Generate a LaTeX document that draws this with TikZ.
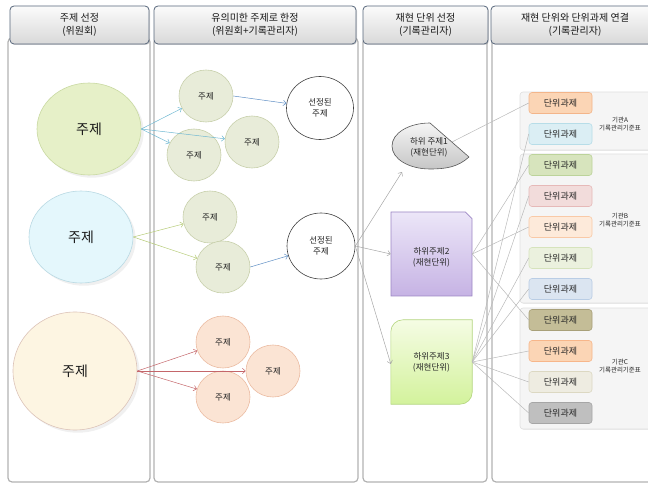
\documentclass[tikz,border=0pt]{standalone}
\usepackage{fontspec}
\setmainfont{Noto Sans CJK KR}
\usetikzlibrary{arrows.meta,shapes.geometric,shapes.misc,shadows}

\definecolor{hdrline}{HTML}{56657A}
\definecolor{tgreen}{HTML}{E6F0C8}
\definecolor{tgreenl}{HTML}{C9D9A2}
\definecolor{tblue}{HTML}{E4F7FC}
\definecolor{tbluel}{HTML}{B9D9E3}
\definecolor{tpeach}{HTML}{FDF5E2}
\definecolor{tpeachl}{HTML}{DCC3B8}
\definecolor{sgreen}{HTML}{E8ECD9}
\definecolor{sgreenl}{HTML}{C8D0AC}
\definecolor{speach}{HTML}{FBE4D4}
\definecolor{speachl}{HTML}{EBBCA3}
\definecolor{arteal}{HTML}{6FB8D2}
\definecolor{arblue}{HTML}{5F8FC4}
\definecolor{arolive}{HTML}{B7CC79}
\definecolor{arred}{HTML}{C4666A}
\definecolor{lavtop}{HTML}{ECE6F8}
\definecolor{lavbot}{HTML}{C6B3E4}
\definecolor{lavline}{HTML}{9C86C4}
\definecolor{limetop}{HTML}{F5FCE4}
\definecolor{limebot}{HTML}{D3F29C}
\definecolor{limeline}{HTML}{B3D57E}
% 단위과제 colours
\definecolor{kf1}{HTML}{FBD5B5}\definecolor{kd1}{HTML}{F3B58A}
\definecolor{kf2}{HTML}{DBEEF4}\definecolor{kd2}{HTML}{B7DDE8}
\definecolor{kf3}{HTML}{D7E4BD}\definecolor{kd3}{HTML}{BCD39A}
\definecolor{kf4}{HTML}{F2DCDB}\definecolor{kd4}{HTML}{E6B9B8}
\definecolor{kf5}{HTML}{FDEADA}\definecolor{kd5}{HTML}{F9C9A6}
\definecolor{kf6}{HTML}{EBF1DE}\definecolor{kd6}{HTML}{D6E3BC}
\definecolor{kf7}{HTML}{DBE5F1}\definecolor{kd7}{HTML}{B9CDE5}
\definecolor{kf8}{HTML}{C4BD97}\definecolor{kd8}{HTML}{A8A079}
\definecolor{kf9}{HTML}{FBD5B5}\definecolor{kd9}{HTML}{F7B68A}
\definecolor{kf10}{HTML}{EEECE1}\definecolor{kd10}{HTML}{DCD8C2}
\definecolor{kf11}{HTML}{BFBFBF}\definecolor{kd11}{HTML}{A6A6A6}

\begin{document}
\begin{tikzpicture}[x=1pt, y=-1pt,
    panel/.style={draw=gray!60, line width=1.2pt, rounded corners=4pt},
    hdr/.style={draw=hdrline, line width=0.8pt, rounded corners=4pt,
      top color=gray!3, bottom color=gray!30,
      drop shadow={opacity=0.3, shadow xshift=1pt, shadow yshift=-1pt},
      minimum height=38pt, align=center, text=black!90,
      font=\fontsize{10}{13}\selectfont},
    bigtopic/.style={ellipse, minimum width=104pt, minimum height=92pt,
      line width=0.6pt, drop shadow={opacity=0.12},
      text=black!90, font=\fontsize{14}{16}\selectfont},
    topic/.style={ellipse, minimum width=54pt, minimum height=52pt,
      line width=0.6pt, text=black!85, font=\fontsize{8.5}{10}\selectfont},
    chosen/.style={ellipse, draw=black!75, fill=white, line width=0.6pt,
      minimum width=67pt, minimum height=63pt, align=center, text=black!85,
      font=\fontsize{8.5}{10.5}\selectfont},
    unit/.style={align=center, text=black!85, font=\fontsize{8.5}{11}\selectfont},
    group/.style={fill=gray!8, draw=gray!25, line width=0.6pt, rounded corners=3pt,
      drop shadow={opacity=0.15, shadow xshift=0.8pt, shadow yshift=-0.8pt}},
    org/.style={align=center, text=black!85, font=\fontsize{6.5}{8}\selectfont},
    arr/.style={-{Straight Barb[length=3pt,width=5.5pt]}, line width=0.5pt},
    link/.style={draw=gray!55, line width=0.5pt}]

	\useasboundingbox (0,0) rectangle (648,486);

	% colonne
	\draw[panel] (8,38) rectangle (150,482);
	\draw[panel] (154,38) rectangle (358,482);
	\draw[panel] (363,38) rectangle (487,482);
	\draw[panel] (492,38) rectangle (664,482);

	\node[hdr, minimum width=139pt] (h1) at (79.5,25) {주제 선정\\(위원회)};
	\node[hdr, minimum width=202pt] (h2) at (255,25) {유의미한 주제로 한정\\(위원회+기록관리자)};
	\node[hdr, minimum width=125pt] (h3) at (425.5,25) {재현 단위 선정\\(기록관리자)};
	\node[hdr, minimum width=168pt] (h4) at (575,25) {재현 단위와 단위과제 연결\\(기록관리자)};

	%주제
	\node[bigtopic, fill=tgreen, draw=tgreenl] (t1) at (89,129) {주제};
	\node[bigtopic, fill=tblue, draw=tbluel] (t2) at (81,237) {주제};
	\node[bigtopic, fill=tpeach, draw=tpeachl, minimum width=124pt, minimum height=118pt] (t3) at (75,371) {주제};

	\node[topic, fill=sgreen, draw=sgreenl] (a1) at (206,96) {주제};
	\node[topic, fill=sgreen, draw=sgreenl] (a2) at (194,155) {주제};
	\node[topic, fill=sgreen, draw=sgreenl] (a3) at (252,142) {주제};
	\node[chosen] (s1) at (320,108) {선정된\\주제};

	\node[topic, fill=sgreen, draw=sgreenl] (b1) at (210,217) {주제};
	\node[topic, fill=sgreen, draw=sgreenl] (b2) at (223,267) {주제};
	\node[chosen, minimum width=68pt, minimum height=66pt] (s2) at (321,246) {선정된\\주제};

	\node[topic, fill=speach, draw=speachl] (c1) at (223,342) {주제};
	\node[topic, fill=speach, draw=speachl] (c3) at (223,397) {주제};
	\node[topic, fill=speach, draw=speachl] (c2) at (273,371) {주제};

	\draw[arr, arteal] (t1.east) -- (a1);
	\draw[arr, arteal] (t1.east) -- (a2);
	\draw[arr, arteal] (t1.east) -- (a3);
	\draw[arr, arblue] (a1.east) -- (s1);

	\draw[arr, arolive] (t2.east) -- (b1);
	\draw[arr, arolive] (t2.east) -- (b2);
	\draw[arr, arblue] (b2.east) -- (s2);

	\draw[arr, arred] (t3.east) -- (c1);
	\draw[arr, arred] (t3.east) -- (c2);
	\draw[arr, arred] (t3.east) -- (c3);

	% 재현단위
	\coordinate (u1t) at (430,123);
	\coordinate (u1p) at (469,157);
	\coordinate (u1b) at (430,169);
	\coordinate (u1l) at (392,146);
	\coordinate (u1in) at (402,172);
	\coordinate (u1out) at (452,142);
	\draw[draw=black!65, line width=0.6pt, top color=gray!8, bottom color=gray!45]
		(u1t) -- (u1p) .. controls (458,167) and (446,169) .. (u1b)
		.. controls (409,169) and (392,159) .. (u1l)
		.. controls (392,133) and (409,123) .. (u1t) -- cycle;
	\node[unit] (u1) at (429,147) {하위 주제1\\(재현단위)};

	\node[chamfered rectangle, chamfered rectangle corners=north east,
		chamfered rectangle xsep=14pt, chamfered rectangle ysep=14pt,
		minimum width=81pt, minimum height=84pt, draw=lavline, line width=0.6pt,
		top color=lavtop, bottom color=lavbot] (u2) at (431.5,254) {};
	\node[unit] at (431.5,257) {하위주제2\\(재현단위)};

	\node[minimum width=81pt, minimum height=84pt, inner sep=0pt] (u3) at (431.5,362) {};
	\draw[draw=limeline, line width=0.6pt, top color=limetop, bottom color=limebot]
		(u3.west) [rounded corners=12pt] -- (u3.north west) -- (u3.north)
		[sharp corners] -- (u3.north east) -- (u3.east)
		[rounded corners=12pt] -- (u3.south east) -- (u3.south)
		[sharp corners] -- (u3.south west) -- cycle;
	\node[unit] at (u3) {하위주제3\\(재현단위)};

	\draw[arr, gray!70] (s2.east) -- (u1in);
	\draw[arr, gray!70] (s2.east) -- (u2.west);
	\draw[arr, gray!70] (s2.east) -- ([yshift=-2pt]u3.west);

	% 단위과제
	\draw[group] (520,92) rectangle (664,150);
	\draw[group] (520,154) rectangle (664,303);
	\draw[group] (520,308) rectangle (664,429);

	\foreach \i/\y in {1/103,2/134,3/165,4/196,5/227,6/258,7/289,8/320,9/351,10/382,11/413}
		\node[rectangle, rounded corners=3pt, minimum width=63pt, minimum height=21pt,
			line width=0.6pt, text=black!85, fill=kf\i, draw=kd\i,
			font=\fontsize{9}{10}\selectfont] (k\i) at (560.5,\y) {단위과제};

	\node[org] (oA) at (620,124) {기관A\\기록관리기준표};
	\node[org] (oB) at (620,220) {기관B\\기록관리기준표};
	\node[org] (oC) at (620,366) {기관C\\기록관리기준표};

	\draw[link] (u1out) -- (k1.west);
	\foreach \k in {k3,k5,k8}
		\draw[link] (u2.east) -- (\k.west);
	\foreach \k in {k2,k4,k6,k7,k9,k10,k11}
		\draw[link] (u3.east) -- (\k.west);
\end{tikzpicture}
\end{document}
